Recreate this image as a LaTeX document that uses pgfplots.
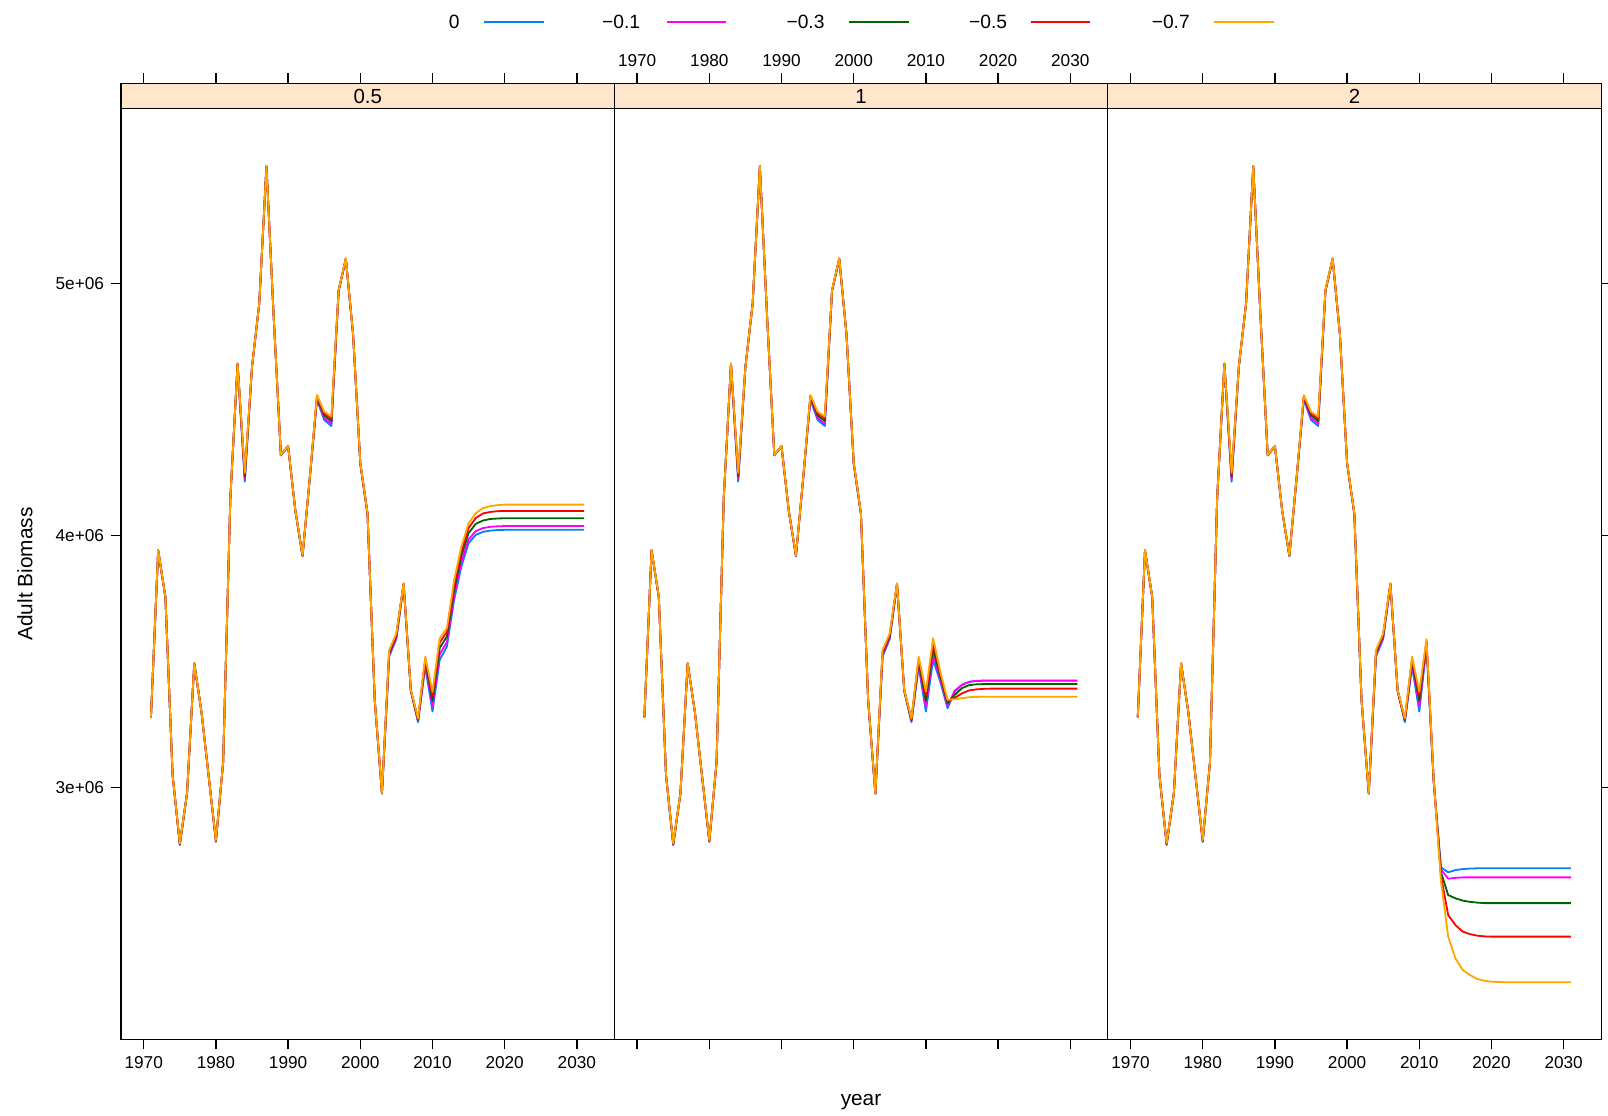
\documentclass[border=0pt]{standalone}
\usepackage{fontspec}
\setmainfont{Liberation Sans}
\usepackage{pgfplots}
\usepackage{pgfplotstable}
\pgfplotsset{compat=1.18}

\definecolor{c0}{HTML}{0080FF}
\definecolor{c1}{HTML}{FF00FF}
\definecolor{c3}{HTML}{006400}
\definecolor{c5}{HTML}{FF0000}
\definecolor{c7}{HTML}{FFA500}
\definecolor{stripbg}{HTML}{FFE5CC}

% adult biomass in millions; columns = scenario 0, -0.1, -0.3, -0.5, -0.7
\pgfplotstableread{
year b0 b1 b3 b5 b7
1971 3.278 3.280 3.281 3.282 3.282
1972 3.940 3.941 3.942 3.943 3.943
1973 3.755 3.756 3.757 3.758 3.758
1974 3.050 3.050 3.050 3.050 3.050
1975 2.772 2.774 2.776 2.778 2.779
1976 2.978 2.978 2.978 2.978 2.978
1977 3.492 3.492 3.493 3.494 3.494
1978 3.300 3.300 3.300 3.300 3.300
1979 3.044 3.044 3.044 3.044 3.044
1980 2.785 2.787 2.789 2.791 2.792
1981 3.100 3.100 3.100 3.100 3.100
1982 4.150 4.150 4.150 4.150 4.150
1983 4.680 4.681 4.682 4.683 4.684
1984 4.214 4.223 4.234 4.243 4.250
1985 4.670 4.670 4.670 4.670 4.670
1986 4.920 4.920 4.920 4.920 4.920
1987 5.465 5.466 5.466 5.467 5.467
1988 4.870 4.870 4.870 4.870 4.870
1989 4.318 4.319 4.319 4.320 4.320
1990 4.354 4.355 4.355 4.356 4.356
1991 4.100 4.100 4.100 4.100 4.100
1992 3.918 3.919 3.920 3.921 3.921
1993 4.225 4.226 4.228 4.229 4.230
1994 4.540 4.545 4.550 4.554 4.558
1995 4.459 4.467 4.477 4.485 4.492
1996 4.435 4.444 4.455 4.465 4.472
1997 4.970 4.971 4.973 4.974 4.975
1998 5.097 5.098 5.099 5.100 5.101
1999 4.797 4.798 4.799 4.800 4.800
2000 4.285 4.286 4.288 4.289 4.290
2001 4.085 4.086 4.088 4.089 4.090
2002 3.345 3.346 3.348 3.349 3.350
2003 2.976 2.977 2.977 2.978 2.978
2004 3.520 3.527 3.534 3.541 3.546
2005 3.590 3.596 3.603 3.608 3.613
2006 3.805 3.807 3.809 3.810 3.811
2007 3.383 3.385 3.386 3.387 3.388
2008 3.260 3.264 3.268 3.272 3.275
2009 3.480 3.490 3.502 3.512 3.520
2010 3.302 3.322 3.345 3.365 3.381
2011 3.507 3.529 3.554 3.576 3.593
2012 3.560 3.578 3.600 3.618 3.633
2013 3.745 3.760 3.785 3.805 3.824
2014 3.877 3.895 3.920 3.940 3.956
2015 3.970 3.985 4.010 4.030 4.049
2016 4.003 4.018 4.047 4.070 4.089
2017 4.015 4.030 4.060 4.088 4.109
2018 4.020 4.035 4.066 4.094 4.117
2019 4.022 4.037 4.068 4.097 4.121
2020 4.023 4.038 4.069 4.098 4.123
2021 4.023 4.038 4.069 4.098 4.123
2022 4.023 4.038 4.069 4.098 4.123
2023 4.023 4.038 4.069 4.098 4.123
2024 4.023 4.038 4.069 4.098 4.123
2025 4.023 4.038 4.069 4.098 4.123
2026 4.023 4.038 4.069 4.098 4.123
2027 4.023 4.038 4.069 4.098 4.123
2028 4.023 4.038 4.069 4.098 4.123
2029 4.023 4.038 4.069 4.098 4.123
2030 4.023 4.038 4.069 4.098 4.123
2031 4.023 4.038 4.069 4.098 4.123
}\tabA

\pgfplotstableread{
year b0 b1 b3 b5 b7
1971 3.278 3.280 3.281 3.282 3.282
1972 3.940 3.941 3.942 3.943 3.943
1973 3.755 3.756 3.757 3.758 3.758
1974 3.050 3.050 3.050 3.050 3.050
1975 2.772 2.774 2.776 2.778 2.779
1976 2.978 2.978 2.978 2.978 2.978
1977 3.492 3.492 3.493 3.494 3.494
1978 3.300 3.300 3.300 3.300 3.300
1979 3.044 3.044 3.044 3.044 3.044
1980 2.785 2.787 2.789 2.791 2.792
1981 3.100 3.100 3.100 3.100 3.100
1982 4.150 4.150 4.150 4.150 4.150
1983 4.680 4.681 4.682 4.683 4.684
1984 4.214 4.223 4.234 4.243 4.250
1985 4.670 4.670 4.670 4.670 4.670
1986 4.920 4.920 4.920 4.920 4.920
1987 5.465 5.466 5.466 5.467 5.467
1988 4.870 4.870 4.870 4.870 4.870
1989 4.318 4.319 4.319 4.320 4.320
1990 4.354 4.355 4.355 4.356 4.356
1991 4.100 4.100 4.100 4.100 4.100
1992 3.918 3.919 3.920 3.921 3.921
1993 4.225 4.226 4.228 4.229 4.230
1994 4.540 4.545 4.550 4.554 4.558
1995 4.459 4.467 4.477 4.485 4.492
1996 4.435 4.444 4.455 4.465 4.472
1997 4.970 4.971 4.973 4.974 4.975
1998 5.097 5.098 5.099 5.100 5.101
1999 4.797 4.798 4.799 4.800 4.800
2000 4.285 4.286 4.288 4.289 4.290
2001 4.085 4.086 4.088 4.089 4.090
2002 3.345 3.346 3.348 3.349 3.350
2003 2.976 2.977 2.977 2.978 2.978
2004 3.520 3.527 3.534 3.541 3.546
2005 3.590 3.596 3.603 3.608 3.613
2006 3.805 3.807 3.809 3.810 3.811
2007 3.383 3.385 3.386 3.387 3.388
2008 3.260 3.264 3.268 3.272 3.275
2009 3.480 3.490 3.502 3.512 3.520
2010 3.302 3.322 3.345 3.365 3.381
2011 3.507 3.529 3.554 3.576 3.593
2012 3.420 3.430 3.440 3.450 3.460
2013 3.315 3.325 3.335 3.342 3.349
2014 3.381 3.385 3.368 3.357 3.351
2015 3.408 3.408 3.395 3.374 3.355
2016 3.420 3.420 3.407 3.386 3.359
2017 3.423 3.424 3.410 3.390 3.360
2018 3.424 3.425 3.411 3.392 3.361
2019 3.424 3.425 3.411 3.393 3.361
2020 3.424 3.425 3.411 3.393 3.361
2021 3.424 3.425 3.411 3.393 3.361
2022 3.424 3.425 3.411 3.393 3.361
2023 3.424 3.425 3.411 3.393 3.361
2024 3.424 3.425 3.411 3.393 3.361
2025 3.424 3.425 3.411 3.393 3.361
2026 3.424 3.425 3.411 3.393 3.361
2027 3.424 3.425 3.411 3.393 3.361
2028 3.424 3.425 3.411 3.393 3.361
2029 3.424 3.425 3.411 3.393 3.361
2030 3.424 3.425 3.411 3.393 3.361
2031 3.424 3.425 3.411 3.393 3.361
}\tabB

\pgfplotstableread{
year b0 b1 b3 b5 b7
1971 3.278 3.280 3.281 3.282 3.282
1972 3.940 3.941 3.942 3.943 3.943
1973 3.755 3.756 3.757 3.758 3.758
1974 3.050 3.050 3.050 3.050 3.050
1975 2.772 2.774 2.776 2.778 2.779
1976 2.978 2.978 2.978 2.978 2.978
1977 3.492 3.492 3.493 3.494 3.494
1978 3.300 3.300 3.300 3.300 3.300
1979 3.044 3.044 3.044 3.044 3.044
1980 2.785 2.787 2.789 2.791 2.792
1981 3.100 3.100 3.100 3.100 3.100
1982 4.150 4.150 4.150 4.150 4.150
1983 4.680 4.681 4.682 4.683 4.684
1984 4.214 4.223 4.234 4.243 4.250
1985 4.670 4.670 4.670 4.670 4.670
1986 4.920 4.920 4.920 4.920 4.920
1987 5.465 5.466 5.466 5.467 5.467
1988 4.870 4.870 4.870 4.870 4.870
1989 4.318 4.319 4.319 4.320 4.320
1990 4.354 4.355 4.355 4.356 4.356
1991 4.100 4.100 4.100 4.100 4.100
1992 3.918 3.919 3.920 3.921 3.921
1993 4.225 4.226 4.228 4.229 4.230
1994 4.540 4.545 4.550 4.554 4.558
1995 4.459 4.467 4.477 4.485 4.492
1996 4.435 4.444 4.455 4.465 4.472
1997 4.970 4.971 4.973 4.974 4.975
1998 5.097 5.098 5.099 5.100 5.101
1999 4.797 4.798 4.799 4.800 4.800
2000 4.285 4.286 4.288 4.289 4.290
2001 4.085 4.086 4.088 4.089 4.090
2002 3.345 3.346 3.348 3.349 3.350
2003 2.976 2.977 2.977 2.978 2.978
2004 3.520 3.527 3.534 3.541 3.546
2005 3.590 3.596 3.603 3.608 3.613
2006 3.805 3.807 3.809 3.810 3.811
2007 3.383 3.385 3.386 3.387 3.388
2008 3.260 3.264 3.268 3.272 3.275
2009 3.480 3.490 3.502 3.512 3.520
2010 3.302 3.322 3.345 3.365 3.381
2011 3.560 3.567 3.575 3.583 3.590
2012 3.020 3.023 3.026 3.028 3.030
2013 2.684 2.675 2.665 2.650 2.630
2014 2.664 2.639 2.574 2.495 2.409
2015 2.673 2.642 2.561 2.455 2.323
2016 2.677 2.644 2.552 2.429 2.277
2017 2.679 2.644 2.547 2.419 2.257
2018 2.680 2.644 2.544 2.413 2.241
2019 2.680 2.644 2.542 2.410 2.234
2020 2.680 2.644 2.542 2.409 2.230
2021 2.680 2.644 2.542 2.409 2.229
2022 2.680 2.644 2.542 2.409 2.228
2023 2.680 2.644 2.542 2.409 2.228
2024 2.680 2.644 2.542 2.409 2.228
2025 2.680 2.644 2.542 2.409 2.228
2026 2.680 2.644 2.542 2.409 2.228
2027 2.680 2.644 2.542 2.409 2.228
2028 2.680 2.644 2.542 2.409 2.228
2029 2.680 2.644 2.542 2.409 2.228
2030 2.680 2.644 2.542 2.409 2.228
2031 2.680 2.644 2.542 2.409 2.228
}\tabC

\pgfplotsset{
  base/.style={
    scale only axis, width=246.7pt, anchor=south west,
    xmin=1966.85, xmax=2035.2,
    axis line style={line width=0.65pt},
    tick align=outside, major tick length=5pt,
    tick style={black, line width=0.65pt},
    xtick={1970,1980,...,2030},
    tick label style={font=\fontsize{8.6}{10}\selectfont},
    /pgf/number format/assume math mode=true,
    /pgf/number format/set thousands separator={},
  },
  panel/.style={
    base, height=465.3pt, ymin=2.0016, ymax=5.694,
    ytick={3,4,5}, xtick pos=left, xticklabel pos=left,
    every axis plot/.append style={line width=0.9pt, no marks, line join=round},
  },
  strip/.style={
    base, height=12.7pt, ymin=0, ymax=1, ytick=\empty,
    xtick pos=right, xticklabel pos=right,
    axis background/.style={fill=stripbg},
  },
  lines/.code={
    \addplot[c0] table[x=year,y=b0]{#1};
    \addplot[c1] table[x=year,y=b1]{#1};
    \addplot[c3] table[x=year,y=b3]{#1};
    \addplot[c5] table[x=year,y=b5]{#1};
    \addplot[c7] table[x=year,y=b7]{#1};
  },
}

\begin{document}
\begin{tikzpicture}
\useasboundingbox (0,0) rectangle (804pt,557.5pt);

% panel 0.5
\begin{axis}[panel, at={(60.5pt,37.85pt)}, ytick pos=left,
  yticklabels={3e+06,4e+06,5e+06}]
\addplot[c0] table[x=year,y=b0]{\tabA};
\addplot[c1] table[x=year,y=b1]{\tabA};
\addplot[c3] table[x=year,y=b3]{\tabA};
\addplot[c5] table[x=year,y=b5]{\tabA};
\addplot[c7] table[x=year,y=b7]{\tabA};
\end{axis}
\begin{axis}[strip, at={(60.5pt,503.15pt)}, xticklabels={}]
\node[font=\fontsize{10.2}{12}\selectfont] at (rel axis cs:0.5,0.5) {0.5};
\end{axis}

% panel 1
\begin{axis}[panel, at={(307.2pt,37.85pt)}, ytick=\empty, xticklabels={}]
\addplot[c0] table[x=year,y=b0]{\tabB};
\addplot[c1] table[x=year,y=b1]{\tabB};
\addplot[c3] table[x=year,y=b3]{\tabB};
\addplot[c5] table[x=year,y=b5]{\tabB};
\addplot[c7] table[x=year,y=b7]{\tabB};
\end{axis}
\begin{axis}[strip, at={(307.2pt,503.15pt)}]
\node[font=\fontsize{10.2}{12}\selectfont] at (rel axis cs:0.5,0.5) {1};
\end{axis}

% panel 2
\begin{axis}[panel, at={(553.9pt,37.85pt)}, ytick pos=right, yticklabels={}]
\addplot[c0] table[x=year,y=b0]{\tabC};
\addplot[c1] table[x=year,y=b1]{\tabC};
\addplot[c3] table[x=year,y=b3]{\tabC};
\addplot[c5] table[x=year,y=b5]{\tabC};
\addplot[c7] table[x=year,y=b7]{\tabC};
\end{axis}
\begin{axis}[strip, at={(553.9pt,503.15pt)}, xticklabels={}]
\node[font=\fontsize{10.2}{12}\selectfont] at (rel axis cs:0.5,0.5) {2};
\end{axis}

% axis titles
\node[font=\fontsize{10.4}{12}\selectfont] at (430.5pt,6.65pt) {year};
\node[font=\fontsize{10.4}{12}\selectfont, rotate=90] at (12.5pt,270.5pt) {Adult Biomass};

% key
\begin{scope}[font=\fontsize{9.6}{11}\selectfont, line width=0.9pt]
\node[anchor=east, inner sep=0pt] at (230.2pt,546.65pt) {0};
\draw[c0] (242pt,546.65pt) -- (271.8pt,546.65pt);
\node[anchor=east, inner sep=0pt] at (320.5pt,546.65pt) {−0.1};
\draw[c1] (333.3pt,546.65pt) -- (363pt,546.65pt);
\node[anchor=east, inner sep=0pt] at (412.7pt,546.65pt) {−0.3};
\draw[c3] (424.5pt,546.65pt) -- (454.3pt,546.65pt);
\node[anchor=east, inner sep=0pt] at (504pt,546.65pt) {−0.5};
\draw[c5] (515.3pt,546.65pt) -- (545pt,546.65pt);
\node[anchor=east, inner sep=0pt] at (595.3pt,546.65pt) {−0.7};
\draw[c7] (607pt,546.65pt) -- (636.8pt,546.65pt);
\end{scope}
\end{tikzpicture}
\end{document}
